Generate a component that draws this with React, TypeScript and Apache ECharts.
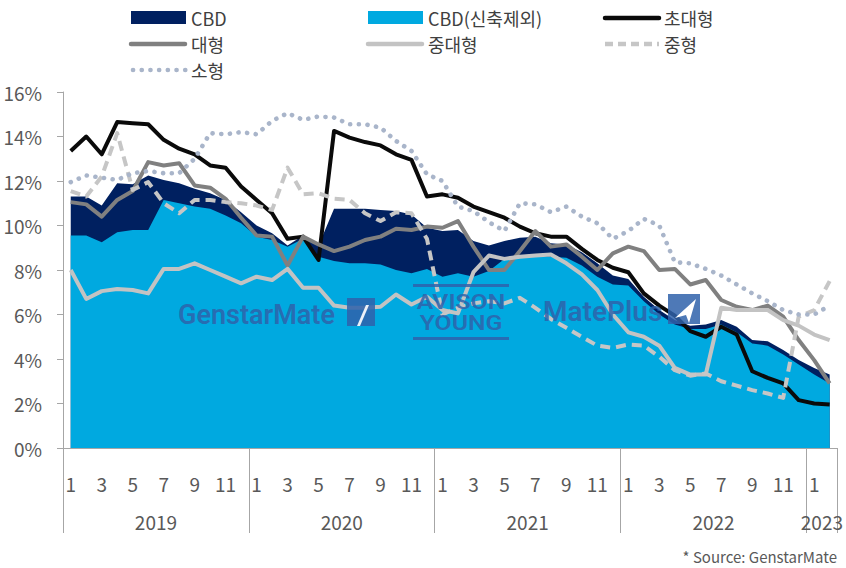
import React, { useEffect, useRef } from "react";
import * as echarts from "echarts";

const FONT = "'Noto Sans CJK KR', 'Noto Sans', sans-serif";

const years = ["2019", "2020", "2021", "2022", "2023"];
const monthsPerYear = [12, 12, 12, 12, 2];
const categories: string[] = years.flatMap((y, k) =>
  Array.from({ length: monthsPerYear[k] }, (_, m) => `${y}-${m + 1}`)
);

const seriesNames = ["CBD", "CBD(신축제외)", "초대형", "대형", "중대형", "중형", "소형"];

const cbd = [11.3, 11.3, 10.9, 11.9, 11.85, 12.25, 12.05, 11.9, 11.65, 11.45, 11.15, 10.6, 10.0, 9.65, 9.1, 9.55, 9.1, 10.75, 10.75, 10.75, 10.7, 10.65, 10.5, 9.9, 9.75, 9.8, 9.3, 9.1, 9.3, 9.45, 9.5, 9.2, 9.15, 8.8, 8.3, 7.75, 7.6, 6.8, 6.2, 5.75, 5.5, 5.55, 5.75, 5.45, 4.85, 4.8, 4.4, 3.95, 3.6, 3.3];
const cbdExNew = [9.55, 9.55, 9.25, 9.7, 9.8, 9.8, 11.15, 11.0, 10.85, 10.75, 10.45, 10.1, 9.5, 9.35, 9.05, 9.4, 8.6, 8.4, 8.3, 8.3, 8.25, 8.0, 7.85, 8.05, 7.7, 7.85, 7.7, 7.95, 8.5, 8.6, 8.65, 8.6, 8.55, 8.2, 7.7, 7.35, 7.3, 6.6, 6.0, 5.55, 5.35, 5.35, 5.55, 5.2, 4.7, 4.6, 4.2, 3.75, 3.3, 2.9];
const prime = [13.35, 14.0, 13.2, 14.65, 14.6, 14.55, 13.85, 13.45, 13.2, 12.7, 12.6, 11.75, 11.15, 10.55, 9.4, 9.5, 8.45, 14.25, 13.95, 13.75, 13.6, 13.2, 12.95, 11.3, 11.4, 11.25, 10.85, 10.6, 10.35, 9.95, 9.65, 9.5, 9.5, 8.95, 8.45, 8.1, 7.9, 6.95, 6.4, 5.95, 5.25, 5.0, 5.45, 5.1, 3.45, 3.15, 2.9, 2.15, 2.0, 1.95];
const large = [11.05, 10.95, 10.4, 11.15, 11.55, 12.85, 12.7, 12.8, 11.8, 11.7, 11.2, 10.35, 9.55, 9.5, 8.2, 9.5, 9.15, 8.85, 9.05, 9.35, 9.5, 9.85, 9.8, 9.95, 9.9, 10.2, 9.05, 8.0, 8.0, 8.85, 9.75, 9.05, 9.15, 8.6, 8.0, 8.75, 9.05, 8.85, 8.0, 8.05, 7.35, 7.55, 6.65, 6.35, 6.2, 6.4, 5.9, 4.85, 3.95, 2.9];
const midLarge = [8.0, 6.7, 7.05, 7.15, 7.1, 6.95, 8.05, 8.05, 8.3, 8.0, 7.7, 7.4, 7.7, 7.55, 8.05, 7.2, 7.2, 6.4, 6.3, 6.3, 6.35, 6.9, 6.45, 6.8, 6.2, 6.05, 7.9, 8.65, 8.5, 8.6, 8.65, 8.7, 8.3, 7.8, 7.1, 6.0, 5.2, 5.0, 4.6, 3.6, 3.3, 3.3, 6.3, 6.2, 6.2, 6.2, 5.75, 5.5, 5.1, 4.85];
const mid = [11.55, 11.3, 12.2, 14.15, 11.6, 11.95, 11.0, 10.55, 11.15, 11.15, 11.05, 11.0, 10.9, 10.7, 12.6, 11.4, 11.45, 11.2, 11.15, 10.55, 10.2, 10.6, 10.55, 9.4, 6.0, 6.3, 6.5, 6.6, 6.5, 6.75, 6.3, 5.8, 5.4, 5.0, 4.6, 4.5, 4.65, 4.6, 4.1, 3.5, 3.25, 3.35, 3.0, 2.8, 2.6, 2.45, 2.25, 5.9, 6.2, 7.5];
const small = [11.95, 12.25, 12.15, 12.05, 12.35, 12.45, 12.35, 12.35, 13.0, 14.15, 14.1, 14.2, 14.1, 14.7, 15.05, 14.75, 14.9, 14.85, 14.55, 14.55, 14.4, 13.8, 13.35, 12.3, 12.0, 10.85, 10.65, 10.15, 9.75, 11.0, 10.95, 10.6, 10.85, 10.4, 10.1, 9.4, 9.75, 10.3, 10.0, 8.35, 8.3, 8.05, 7.75, 7.35, 6.95, 6.6, 6.2, 6.0, 6.0, 6.4];

const yTicks = { min: 0, max: 16, interval: 2 };
const sourceNote = "* Source: GenstarMate";

const NAVY = "#002060";
const SKY = "#00a9e0";
const BLACK = "#0a0a0a";
const GRAY = "#808080";
const LGRAY = "#c3c3c3";
const DASH = "#c6c6c6";
const DOT = "#a9b5ca";
const AXIS = "#a6a6a6";
const LABEL = "#595959";
const WM = "#2f62aa";

// year boundaries / centres derived from month counts
const yearBounds: number[] = [0];
monthsPerYear.forEach((n, k) => yearBounds.push(yearBounds[k] + n));
const yearCenters = monthsPerYear.map((n, k) => yearBounds[k] + n / 2);

export default function App() {
  const ref = useRef<HTMLDivElement>(null);
  useEffect(() => {
    if (!ref.current) return;
    const chart = echarts.init(ref.current, undefined, { renderer: "svg" });

    const lineSeries = (name: string, data: number[], color: string, type: any, cap = "butt", width = 4) => ({
      name,
      type: "line",
      data,
      symbol: "none",
      z: 3,
      lineStyle: { color, width, type, cap, join: "round" },
      itemStyle: { color },
    });
    const areaSeries = (name: string, data: number[], color: string, z: number) => ({
      name,
      type: "line",
      data,
      symbol: "none",
      z,
      lineStyle: { width: 0, color },
      itemStyle: { color },
      areaStyle: { color, opacity: 1 },
    });

    const legendText = (text: string, x: number, y: number) => ({
      type: "text",
      x,
      y,
      style: { text, fill: "#404040", font: `18px ${FONT}`, textVerticalAlign: "middle", verticalAlign: "middle" },
    });
    const legendLine = (x: number, y: number, stroke: string, lineDash?: any, cap = "round", w = 4.5) => ({
      type: "line",
      shape: { x1: x, y1: y, x2: x + 54, y2: y },
      style: { stroke, lineWidth: w, lineDash, lineCap: cap },
    });

    const wmText = (text: string, x: number, y: number, size: number, align: string, scaleX = 1) => ({
      type: "text",
      x,
      y,
      scaleX,
      z: 100,
      style: {
        text,
        fill: WM,
        opacity: 0.85,
        font: `600 ${size}px Roboto, sans-serif`,
        textAlign: align,
        align,
        textVerticalAlign: "middle",
        verticalAlign: "middle",
      },
    });

    const option: any = {
      animation: false,
      backgroundColor: "#ffffff",
      textStyle: { fontFamily: FONT },
      grid: { left: 63, right: 4, top: 92, bottom: 120 },
      xAxis: [
        {
          type: "category",
          data: categories,
          boundaryGap: true,
          position: "bottom",
          axisLine: { show: true, lineStyle: { color: AXIS, width: 1 } },
          axisTick: { show: false },
          axisLabel: {
            interval: 1,
            margin: 26,
            fontSize: 19,
            color: LABEL,
            fontFamily: FONT,
            formatter: (v: string) => v.split("-")[1],
          },
          splitLine: { show: false },
        },
        {
          type: "value",
          min: 0,
          max: categories.length,
          position: "bottom",
          axisLine: { show: false },
          splitLine: { show: false },
          axisTick: { show: true, customValues: yearBounds, length: 85, lineStyle: { color: AXIS, width: 1 } },
          axisLabel: {
            show: true,
            customValues: yearCenters,
            margin: 64,
            fontSize: 19,
            color: LABEL,
            fontFamily: FONT,
            formatter: (v: number) => {
              const k = yearCenters.findIndex((c) => Math.abs(c - v) < 0.01);
              return k >= 0 ? years[k] : "";
            },
          },
        },
      ],
      yAxis: {
        type: "value",
        min: yTicks.min,
        max: yTicks.max,
        interval: yTicks.interval,
        axisLine: { show: true, lineStyle: { color: AXIS, width: 1 } },
        axisTick: { show: true, length: 6, lineStyle: { color: AXIS } },
        axisLabel: { formatter: "{value}%", fontSize: 19, color: LABEL, margin: 21, fontFamily: FONT },
        splitLine: { show: false },
      },
      series: [
        areaSeries(seriesNames[0], cbd, NAVY, 1),
        areaSeries(seriesNames[1], cbdExNew, SKY, 2),
        lineSeries(seriesNames[2], prime, BLACK, "solid"),
        lineSeries(seriesNames[3], large, GRAY, "solid"),
        lineSeries(seriesNames[4], midLarge, LGRAY, "solid"),
        lineSeries(seriesNames[5], mid, DASH, [10, 6]),
        lineSeries(seriesNames[6], small, DOT, [0.1, 8.6], "round", 4.6),
      ],
      graphic: [
        // legend
        { type: "rect", shape: { x: 131, y: 11, width: 55, height: 13 }, style: { fill: NAVY } },
        legendText(seriesNames[0], 191, 18),
        { type: "rect", shape: { x: 368, y: 11, width: 55, height: 13 }, style: { fill: SKY } },
        legendText(seriesNames[1], 428, 18),
        legendLine(605, 18, BLACK),
        legendText(seriesNames[2], 664, 18),
        legendLine(131, 44, GRAY),
        legendText(seriesNames[3], 191, 44),
        legendLine(368, 44, LGRAY),
        legendText(seriesNames[4], 428, 44),
        legendLine(605, 44, DASH, [8, 5], "butt"),
        legendText(seriesNames[5], 664, 44),
        legendLine(133, 70, DOT, [0.1, 8.6], "round", 4.6),
        legendText(seriesNames[6], 191, 70),
        // source
        {
          type: "text",
          x: 837,
          y: 556,
          style: {
            text: sourceNote,
            fill: LABEL,
            font: `15px ${FONT}`,
            textAlign: "right",
            align: "right",
            textVerticalAlign: "middle",
            verticalAlign: "middle",
          },
        },
        // watermarks
        wmText("GenstarMate", 178, 315, 27, "left"),
        { type: "rect", z: 100, shape: { x: 347, y: 298, width: 28, height: 28 }, style: { fill: WM, opacity: 0.85 } },
        { type: "polygon", z: 101, shape: { points: [[366, 305], [369, 305], [360, 326], [357, 326]] }, style: { fill: "#ffffff", opacity: 0.9 } },
        { type: "rect", z: 100, shape: { x: 413, y: 284, width: 96, height: 3 }, style: { fill: WM, opacity: 0.85 } },
        { type: "rect", z: 100, shape: { x: 413, y: 337, width: 96, height: 3 }, style: { fill: WM, opacity: 0.85 } },
        wmText("AVISON", 461, 302, 21, "center", 1.18),
        wmText("YOUNG", 461, 323, 21, "center", 1.18),
        wmText("MatePlus", 543, 311, 28, "left"),
        { type: "rect", z: 100, shape: { x: 668, y: 294, width: 32, height: 30 }, style: { fill: WM, opacity: 0.85 } },
        { type: "polygon", z: 101, shape: { points: [[696, 299], [675, 318], [686, 315], [689, 323]] }, style: { fill: "#ffffff" } },
      ],
    };

    chart.setOption(option);
    return () => chart.dispose();
  }, []);

  return <div ref={ref} style={{ position: "absolute", left: 0, top: 0, width: 846, height: 568 }} />;
}
